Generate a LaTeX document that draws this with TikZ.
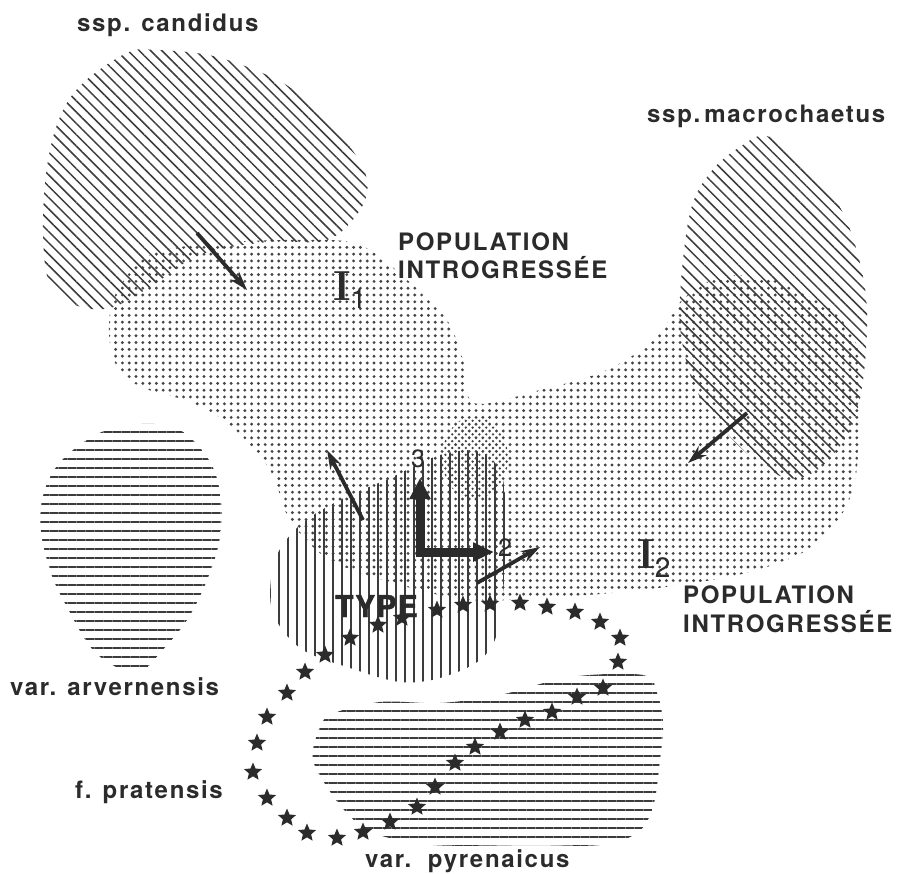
\documentclass[tikz,border=0pt]{standalone}
\usepackage{fontspec}
\newfontfamily\heros[LetterSpace=7]{TeX Gyre Heros}
\newfontfamily\herosplain{TeX Gyre Heros}
\newfontfamily\typefont[LetterSpace=4,FakeBold=1.5]{TeX Gyre Heros}
\usetikzlibrary{patterns.meta,shapes.geometric,arrows.meta}
\definecolor{ink}{HTML}{2B2B2B}
\definecolor{hatch}{HTML}{3C3C3C}
\definecolor{dotgray}{HTML}{444444}
\tikzset{
  lbl/.style={anchor=base west,inner sep=0pt,text=ink,font=\heros\bfseries\fontsize{24}{24}\selectfont},
  starmark/.style={star,star points=5,star point ratio=2.2,fill=ink,inner sep=0pt,minimum size=19pt},
  flow/.style={draw=ink,line width=3.8pt,-{Stealth[length=19pt,width=12pt]}},
  axis/.style={draw=ink,line width=9pt,{Triangle[length=21pt,width=20pt]}-{Triangle[length=21pt,width=18pt]}},
  digit/.style={text=ink,inner sep=0pt,font=\herosplain\fontsize{25}{25}\selectfont}
}
\begin{document}
\begin{tikzpicture}[x=1pt,y=-1pt]
\useasboundingbox[fill=white] (0,0) rectangle (899,873);

\path[pattern={Dots[distance=6.8pt,radius=1.6pt]},pattern color=dotgray]
  plot[smooth cycle,tension=0.55] coordinates {(113,300) (150,255) (220,243) (300,240) (360,245) (413,285) (447,320) (463,360) (474,403) (540,390) (607,370) (657,337) (682,300) (720,277) (767,278) (800,292) (835,313) (858,350) (860,420) (855,480) (840,517) (807,550) (757,570) (700,582) (623,592) (540,598) (470,600) (400,585) (330,560) (290,520) (270,470) (230,425) (190,402) (137,385) (112,355)};
\path[pattern={Dots[distance=6.8pt,radius=1.3pt,xshift=3.4pt,yshift=3.4pt]},pattern color=dotgray]
  (475,458) ellipse[x radius=33,y radius=42];

\path[pattern={Lines[angle=-45,distance=8pt,line width=1.5pt]},pattern color=hatch]
  plot[smooth cycle,tension=0.6] coordinates {(127,53) (157,50) (217,57) (283,83) (317,113) (350,147) (367,180) (360,210) (327,240) (267,242) (200,255) (150,287) (110,308) (75,305) (50,285) (43,233) (47,167) (60,117) (83,83)};
\path[pattern={Lines[angle=-45,distance=8pt,line width=1.5pt]},pattern color=hatch]
  plot[smooth cycle,tension=0.6] coordinates {(770,137) (817,177) (843,213) (860,263) (867,313) (863,380) (850,430) (817,470) (783,477) (740,447) (700,397) (683,347) (680,297) (690,213) (710,173) (740,147)};
\path[pattern={Lines[angle=0,distance=9pt,line width=1.4pt]},pattern color=hatch]
  plot[smooth cycle,tension=0.6] coordinates {(117,427) (173,427) (207,457) (220,493) (220,537) (207,580) (187,620) (160,653) (143,670) (123,670) (93,650) (67,607) (50,570) (40,520) (50,477) (77,447)};
\path[pattern={Lines[angle=90,distance=9pt,line width=1.4pt]},pattern color=hatch]
  plot[smooth cycle,tension=0.55] coordinates {(275,560) (300,525) (340,500) (390,478) (440,455) (480,452) (503,480) (505,560) (498,630) (480,660) (440,678) (400,682) (350,668) (300,648) (272,610)};
\path[pattern={Lines[angle=0,distance=9pt,line width=1.4pt]},pattern color=hatch]
  plot[smooth cycle,tension=0.55] coordinates {(330,715) (380,702) (440,703) (500,695) (570,677) (643,675) (657,693) (663,723) (660,760) (653,807) (637,833) (600,845) (533,845) (433,845) (373,833) (347,813) (327,787) (313,760) (317,735)};

\foreach \x/\y [count=\i] in {437/610,463/605,490/604,520/603,547/607,575/612,600/622,620/638,618/662,603/688,577/697,552/712,525/720,500/732,475/747,455/763,435/787,417/807,390/822,363/832,337/838,307/833,287/818,267/798,253/772,257/743,267/717,287/693,305/672,325/655,350/638,378/625,402/618}
  \node[starmark] (s\i) at (\x,\y) {};

\node[lbl] (candidus) at (77,31) {ssp. candidus};
\node[lbl] (macro) at (647,122) {ssp.\,macrochaetus};
\node[lbl] (popA) at (398,250) {POPULATION};
\node[lbl] (introA) at (398,278) {INTROGRESSÉE};
\node[lbl] (popB) at (683,603) {POPULATION};
\node[lbl] (introB) at (683,632) {INTROGRESSÉE};
\node[lbl] (arvern) at (10,695) {var. arvernensis};
\node[lbl] (prat) at (75,798) {f. pratensis};
\node[lbl] (pyren) at (365,867) {var.\ \ pyrenaicus};
\node[lbl,font=\typefont\bfseries\fontsize{30}{30}\selectfont] (type) at (335,617) {TYPE};

\node[anchor=base west,inner sep=0pt,text=ink] (Ione) at (333,300)
  {\bfseries\fontsize{42}{42}\selectfont I\raisebox{-8pt}{\herosplain\mdseries\fontsize{28}{28}\selectfont 1}};
\node[anchor=base west,inner sep=0pt,text=ink] (Itwo) at (637,568)
  {\bfseries\fontsize{42}{42}\selectfont I\raisebox{-9pt}{\herosplain\mdseries\fontsize{28}{28}\selectfont 2}};

\coordinate (c1) at (197,233);
\coordinate (c2) at (247,290);
\coordinate (m1) at (747,413);
\coordinate (m2) at (688,463);
\coordinate (t1) at (363,520);
\coordinate (t2) at (327,450);
\coordinate (r1) at (477,583);
\coordinate (r2) at (540,547);
\coordinate (o) at (420,552);
\coordinate (e3) at (420,478);
\coordinate (e2) at (494,552);

\draw[flow] (c1) -- (c2);
\draw[flow] (m1) -- (m2);
\draw[flow] (t1) -- (t2);
\draw[flow] (r1) -- (r2);
\draw[axis,line join=miter] (e3) -- (o) -- (e2);

\node[digit] (three) at (418,459) {3};
\node[digit] (two) at (505,548) {2};
\end{tikzpicture}
\end{document}
